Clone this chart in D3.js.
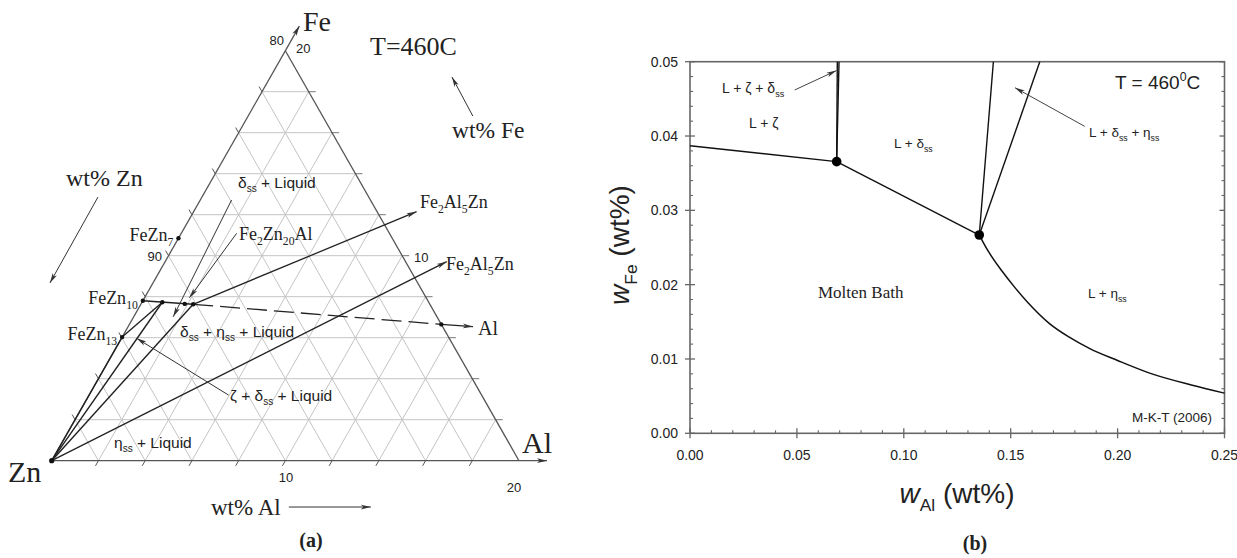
<!DOCTYPE html>
<html><head><meta charset="utf-8">
<script src="https://cdn.jsdelivr.net/npm/d3@7"></script>
<style>body{margin:0;background:#fff} svg{display:block}</style>
</head><body><svg id="c" width="1237" height="558"></svg>
<script>
// ================= DATA =================
// Panel (a): Zn-rich corner of Zn-Al-Fe, coordinates [wt% Al, wt% Fe]
const gridLevels = [2,4,6,8,10,12,14,16,18];
const compoundNames = ["FeZn7", "FeZn10", "FeZn13"];
const compoundPts = [[0,10.85],[0,7.8],[0,6.03]];
const deltaPts = [[0.87,7.73],[1.87,7.65],[2.24,7.63]];
const liquidCorner = [0,0];
const tieLines = [
  [[0,0],[0,6.03]],
  [[0,0],[0.87,7.73]],
  [[0,0],[2.24,7.63]],
  [[0,6.03],[0.87,7.73]],
  [[0,7.8],[2.24,7.63]]
];
const fe2al5znLines = [
  [[2.24,7.63],[9.54,12.15]],
  [[0,0],[12.05,9.71]]
];
const toAlDashed = [[2.24,7.63],[13.35,6.65]];
const toAlArrow = [[13.35,6.65],[14.76,6.54]];
const edgeDot = [13.35,6.65];
const pointerLines = [
  [[1.34,12.72],[1.69,7.02]],   // delta_ss + Liquid
  [[2.37,11.09],[1.92,7.95]],   // Fe2Zn20Al
  [[5.97,3.2],[0.65,5.97]]      // zeta + delta_ss + Liquid
];
const axisArrows = [
  [[9.62,16.81],[7.77,18.72]],  // wt% Fe
  [[-4.45,12.86],[-4.41,8.67]], // wt% Zn
  [[11.28,-2.26],[14.79,-2.26]] // wt% Al
];

// Panel (b): [w_Al, w_Fe] in wt%
const xTicksB = [0,0.05,0.10,0.15,0.20,0.25];
const yTicksB = [0,0.01,0.02,0.03,0.04,0.05];
const liqZeta = [[0,0.0387],[0.0686,0.03655]];
const liqDelta = [[0.0686,0.03655],[0.1353,0.02668]];
const liqEta = [[0.1353,0.02668],[0.1395,0.0245],[0.146,0.0218],[0.152,0.0196],[0.158,0.0176],
  [0.168,0.0148],[0.177,0.0130],[0.187,0.0114],[0.200,0.0098],[0.215,0.0081],[0.2345,0.0065],[0.25,0.0054]];
const zetaDeltaA = [[0.0686,0.03655],[0.0689,0.05]];
const zetaDeltaB = [[0.0686,0.03655],[0.0697,0.05]];
const deltaEtaA = [[0.1353,0.02668],[0.1419,0.05]];
const deltaEtaB = [[0.1353,0.02668],[0.1636,0.05]];
const invariantPts = [[0.0686,0.03655],[0.1353,0.02668]];
const pointerB = [
  [[0.049,0.0462],[0.0685,0.0488]],
  [[0.1846,0.0413],[0.1520,0.0465]]
];

// ================= DRAW =================
const svg = d3.select('#c');
const SERIF = "'Liberation Serif','Times New Roman',serif";
const SANS = "'Liberation Sans',Arial,sans-serif";
const defs = svg.append('defs');
defs.append('marker').attr('id','arr').attr('viewBox','0 0 10 6').attr('refX',10).attr('refY',3)
  .attr('markerWidth',11).attr('markerHeight',6).attr('markerUnits','userSpaceOnUse').attr('orient','auto')
  .append('path').attr('d','M0,0.6 L10,3 L0,5.4 L2.5,3 Z').attr('fill','#333');

function rich(g, str, o) {
  const t = g.append('text').attr('x',o.x).attr('y',o.y).attr('font-family',o.ff).attr('font-size',o.fs)
    .attr('text-anchor',o.anchor||'start').attr('fill',o.fill||'#222');
  if (o.weight) t.attr('font-weight',o.weight);
  if (o.rotate) t.attr('transform',`rotate(${o.rotate},${o.x},${o.y})`);
  const parts = str.split(/(_\{[^}]*\}|\^\{[^}]*\}|\*\{[^}]*\})/).filter(s=>s.length);
  let shift = 0;
  parts.forEach(p=>{
    let target = 0, txt = p, small = false, ital = false;
    if (p.startsWith('_{')) { target = o.fs*0.28; txt = p.slice(2,-1); small = true; }
    else if (p.startsWith('^{')) { target = -o.fs*0.4; txt = p.slice(2,-1); small = true; }
    else if (p.startsWith('*{')) { txt = p.slice(2,-1); ital = true; }
    const ts = t.append('tspan').attr('dy', target-shift).text(txt);
    if (small) ts.attr('font-size', o.fs*(o.subScale||0.65));
    if (ital) ts.attr('font-style','italic');
    shift = target;
  });
  return t;
}

// ---------- Panel (a) ----------
const tx = d3.scaleLinear().domain([0,20]).range([51.7,519]);
const ty = d3.scaleLinear().domain([0,20]).range([460.7,50.7]);
const P = d => [tx(d[0]) + (tx(d[1]) - tx(0))/2, ty(d[1])];
const lineT = d3.line().x(d=>P(d)[0]).y(d=>P(d)[1]);
const ga = svg.append('g');

// grid
gridLevels.forEach(v=>{
  [[[0,v],[20-v,v]], [[v,0],[v,20-v]], [[v,0],[0,v]]].forEach(seg=>{
    ga.append('path').attr('d',lineT(seg)).attr('stroke','#c4c4c4').attr('stroke-width',1).attr('fill','none');
  });
  // ticks
  ga.append('path').attr('d',lineT([[20-v,v],[20-v+0.3,v]])).attr('stroke','#777').attr('stroke-width',1);
  ga.append('path').attr('d',lineT([[0,v],[-0.25,v+0.25]])).attr('stroke','#555').attr('stroke-width',1);
  ga.append('path').attr('d',lineT([[v,0],[v,-0.25]])).attr('stroke','#555').attr('stroke-width',1);
});
// edges
ga.append('path').attr('d',lineT([[20,0],[0,20]])).attr('stroke','#555').attr('stroke-width',1.3).attr('fill','none');
ga.append('path').attr('d',lineT([[0,0],[21.2,0]])).attr('stroke','#555').attr('stroke-width',1.3).attr('fill','none').attr('marker-end','url(#arr)');
ga.append('path').attr('d',lineT([[0,0],[0,21.2]])).attr('stroke','#555').attr('stroke-width',1.3).attr('fill','none').attr('marker-end','url(#arr)');

// phase lines
tieLines.forEach(s=>ga.append('path').attr('d',lineT(s)).attr('stroke','#222').attr('stroke-width',1.4).attr('fill','none'));
fe2al5znLines.forEach(s=>ga.append('path').attr('d',lineT(s)).attr('stroke','#222').attr('stroke-width',1.3).attr('fill','none').attr('marker-end','url(#arr)'));
ga.append('path').attr('d',lineT(toAlDashed)).attr('stroke','#222').attr('stroke-width',1.3).attr('stroke-dasharray','20,7').attr('fill','none');
ga.append('path').attr('d',lineT(toAlArrow)).attr('stroke','#222').attr('stroke-width',1.3).attr('fill','none').attr('marker-end','url(#arr)');
pointerLines.forEach(s=>ga.append('path').attr('d',lineT(s)).attr('stroke','#333').attr('stroke-width',1).attr('fill','none').attr('marker-end','url(#arr)'));
axisArrows.forEach(s=>ga.append('path').attr('d',lineT(s)).attr('stroke','#333').attr('stroke-width',1).attr('fill','none').attr('marker-end','url(#arr)'));

// dots
[...compoundPts, ...deltaPts, edgeDot, liquidCorner].forEach(d=>{
  ga.append('circle').attr('cx',P(d)[0]).attr('cy',P(d)[1]).attr('r', d===liquidCorner?2.6:2.2).attr('fill','#111');
});

// labels panel a
rich(ga,'Fe',{x:303,y:31,ff:SERIF,fs:28});
rich(ga,'Zn',{x:8,y:482,ff:SERIF,fs:30});
rich(ga,'Al',{x:522,y:453,ff:SERIF,fs:30});
rich(ga,'T=460C',{x:370,y:55,ff:SERIF,fs:26});
rich(ga,'wt% Fe',{x:452,y:138,ff:SERIF,fs:23.5});
rich(ga,'wt% Zn',{x:66,y:186,ff:SERIF,fs:24});
rich(ga,'wt% Al',{x:211,y:515,ff:SERIF,fs:23});
rich(ga,'80',{x:284,y:45,ff:SANS,fs:13,anchor:'end'});
rich(ga,'20',{x:296,y:53,ff:SANS,fs:13});
rich(ga,'90',{x:162,y:261,ff:SANS,fs:13,anchor:'end'});
rich(ga,'10',{x:414,y:262,ff:SANS,fs:13});
rich(ga,'10',{x:286,y:482,ff:SANS,fs:13,anchor:'middle'});
rich(ga,'20',{x:514,y:492,ff:SANS,fs:13,anchor:'middle'});
compoundNames.forEach((n,i)=>{
  const d = compoundPts[i];
  rich(ga, n.replace(/(\d+)$/,'_{$1}'), {x:P(d)[0]-5, y:P(d)[1]+3, ff:SERIF, fs:18, anchor:'end'});
});
rich(ga,'Fe_{2}Zn_{20}Al',{x:239,y:240,ff:SERIF,fs:18});
rich(ga,'Fe_{2}Al_{5}Zn',{x:420,y:208,ff:SERIF,fs:18});
rich(ga,'Fe_{2}Al_{5}Zn',{x:446,y:270,ff:SERIF,fs:18});
rich(ga,'Al',{x:478,y:335,ff:SERIF,fs:20});
rich(ga,'δ_{ss} + Liquid',{x:238,y:188,ff:SANS,fs:15.5});
rich(ga,'δ_{ss} + η_{ss} + Liquid',{x:180,y:337,ff:SANS,fs:15.5});
rich(ga,'ζ + δ_{ss} + Liquid',{x:230,y:401,ff:SANS,fs:15.5});
rich(ga,'η_{ss} + Liquid',{x:114,y:448,ff:SANS,fs:15.5});
rich(ga,'(a)',{x:311,y:547,ff:SERIF,fs:20,anchor:'middle',weight:'bold'});

// ---------- Panel (b) ----------
const xb = d3.scaleLinear().domain([0,0.25]).range([690,1224.5]);
const yb = d3.scaleLinear().domain([0,0.05]).range([433.3,61.7]);
const gb = svg.append('g');
const lineB = d3.line().x(d=>xb(d[0])).y(d=>yb(d[1]));
const AX = '#666';
// frame
gb.append('rect').attr('x',xb(0)).attr('y',yb(0.05)).attr('width',xb(0.25)-xb(0)).attr('height',yb(0)-yb(0.05))
  .attr('fill','none').attr('stroke',AX).attr('stroke-width',1.6);
// ticks
const xMinor = xb.ticks(25).filter(v=>!xTicksB.some(t=>Math.abs(t-v)<1e-9));
const yMinor = yb.ticks(25).filter(v=>!yTicksB.some(t=>Math.abs(t-v)<1e-9));
xTicksB.forEach(v=>gb.append('line').attr('x1',xb(v)).attr('x2',xb(v)).attr('y1',yb(0)-5).attr('y2',yb(0)+5).attr('stroke',AX).attr('stroke-width',1.3));
xMinor.forEach(v=>gb.append('line').attr('x1',xb(v)).attr('x2',xb(v)).attr('y1',yb(0)-3).attr('y2',yb(0)).attr('stroke',AX).attr('stroke-width',1.1));
yTicksB.forEach(v=>{
  gb.append('line').attr('x1',xb(0)-5).attr('x2',xb(0)+5).attr('y1',yb(v)).attr('y2',yb(v)).attr('stroke',AX).attr('stroke-width',1.3);
  gb.append('line').attr('x1',xb(0.25)-5).attr('x2',xb(0.25)).attr('y1',yb(v)).attr('y2',yb(v)).attr('stroke',AX).attr('stroke-width',1.3);
});
yMinor.forEach(v=>{
  gb.append('line').attr('x1',xb(0)).attr('x2',xb(0)+3).attr('y1',yb(v)).attr('y2',yb(v)).attr('stroke',AX).attr('stroke-width',1.1);
  gb.append('line').attr('x1',xb(0.25)-3).attr('x2',xb(0.25)).attr('y1',yb(v)).attr('y2',yb(v)).attr('stroke',AX).attr('stroke-width',1.1);
});
const fmt = d3.format('.2f');
xTicksB.forEach(v=>gb.append('text').attr('x',xb(v)).attr('y',yb(0)+27).attr('text-anchor','middle')
  .attr('font-family',SANS).attr('font-size',14).attr('fill','#222').text(fmt(v)));
yTicksB.forEach(v=>gb.append('text').attr('x',xb(0)-12).attr('y',yb(v)+5).attr('text-anchor','end')
  .attr('font-family',SANS).attr('font-size',14).attr('fill','#222').text(fmt(v)));

// phase boundaries
[liqZeta, liqDelta, zetaDeltaA, zetaDeltaB, deltaEtaA, deltaEtaB].forEach(s=>
  gb.append('path').attr('d',lineB(s)).attr('stroke','#111').attr('stroke-width',1.4).attr('fill','none'));
gb.append('path').attr('d',lineB.curve(d3.curveMonotoneX)(liqEta)).attr('stroke','#111').attr('stroke-width',1.5).attr('fill','none');
lineB.curve(d3.curveLinear);
pointerB.forEach(s=>gb.append('path').attr('d',lineB(s)).attr('stroke','#444').attr('stroke-width',1).attr('fill','none').attr('marker-end','url(#arr)'));
invariantPts.forEach(d=>gb.append('circle').attr('cx',xb(d[0])).attr('cy',yb(d[1])).attr('r',4.8).attr('fill','#000'));

// labels panel b
rich(gb,'L + ζ + δ_{ss}',{x:722,y:93,ff:SANS,fs:14});
rich(gb,'L + ζ',{x:749,y:128,ff:SANS,fs:14});
rich(gb,'L + δ_{ss}',{x:894,y:148,ff:SANS,fs:13.5});
rich(gb,'L + δ_{ss} + η_{ss}',{x:1089,y:137,ff:SANS,fs:13.5});
rich(gb,'T = 460^{0}C',{x:1115,y:89,ff:SANS,fs:19});
rich(gb,'Molten Bath',{x:818,y:298,ff:SERIF,fs:17});
rich(gb,'L + η_{ss}',{x:1088,y:298,ff:SANS,fs:13.5});
rich(gb,'M-K-T (2006)',{x:1212,y:422,ff:SANS,fs:13.5,anchor:'end'});
rich(gb,'*{w}_{Al} (wt%)',{x:957,y:503,ff:SANS,fs:28,anchor:'middle',subScale:0.62});
rich(gb,'*{w}_{Fe} (wt%)',{x:629,y:245,ff:SANS,fs:28,anchor:'middle',rotate:-90,subScale:0.62});
rich(gb,'(b)',{x:975,y:550,ff:SERIF,fs:20,anchor:'middle',weight:'bold'});
</script></body></html>
